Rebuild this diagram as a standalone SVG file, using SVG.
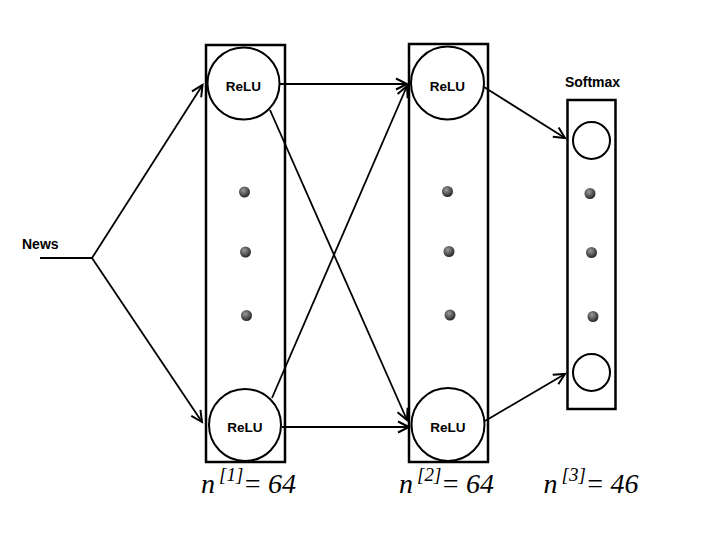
<svg xmlns="http://www.w3.org/2000/svg" width="720" height="540" viewBox="0 0 720 540">
<style>
.box{fill:none;stroke:#000;stroke-width:2.5}
.neuron{fill:#fff;stroke:#000;stroke-width:2}
.dot{fill:url(#dotg)}
.lbl{font-family:"Liberation Sans",Arial,sans-serif;font-weight:bold;fill:#000}
.relu{font-size:13.5px;text-anchor:middle}
.big{font-family:"Liberation Serif","Times New Roman",serif;font-style:italic;fill:#000}
.edge{fill:none;stroke:#000;stroke-width:1.8;marker-end:url(#arr)}
</style>
<defs>
<radialGradient id="dotg" cx="0.4" cy="0.35" r="0.7">
<stop offset="0" stop-color="#9a9a9a"/>
<stop offset="1" stop-color="#1e1e1e"/>
</radialGradient>
<marker id="arr" markerUnits="userSpaceOnUse" markerWidth="16" markerHeight="16" viewBox="-12 -8 14 16" refX="0" refY="0" orient="auto">
<path d="M-11,-5.5 L0,0 L-11,5.5" fill="none" stroke="#000" stroke-width="2"/>
</marker>
</defs>
<rect width="720" height="540" fill="#fff"/>

<g id="connectors">
<path d="M40,258 H92" fill="none" stroke="#000" stroke-width="1.8"/>
<path class="edge" d="M92,258 L202.5,85"/>
<path class="edge" d="M92,258 L202,422"/>
<path class="edge" d="M280,84 L407,84"/>
<path class="edge" d="M270,110 L407,420"/>
<path class="edge" d="M272,398 L407,86"/>
<path class="edge" d="M282,427 L409,427"/>
<path class="edge" d="M484,87 L565,138"/>
<path class="edge" d="M485,421 L565,374"/>
</g>

<g id="input">
<text class="lbl" x="22" y="249" font-size="14">News</text>
</g>

<g id="layer1">
<rect class="box" x="206" y="45" width="79" height="417"/>
<circle class="neuron" cx="243.5" cy="83.5" r="36"/>
<text class="lbl relu" x="243.5" y="91">ReLU</text>
<circle class="dot" cx="244.5" cy="192" r="5.5"/>
<circle class="dot" cx="245.5" cy="252" r="5.5"/>
<circle class="dot" cx="246.5" cy="315.5" r="5.5"/>
<circle class="neuron" cx="245" cy="425" r="36"/>
<text class="lbl relu" x="245" y="432">ReLU</text>
<text class="big" y="493" font-size="28"><tspan x="201">n</tspan><tspan x="219" y="481" font-size="19">[1]</tspan><tspan x="243" y="493">=</tspan><tspan x="268">64</tspan></text>
</g>

<g id="layer2">
<rect class="box" x="409" y="44" width="79" height="418"/>
<circle class="neuron" cx="447.5" cy="83" r="36.5"/>
<text class="lbl relu" x="447.5" y="90.5">ReLU</text>
<circle class="dot" cx="447.5" cy="191.5" r="5.5"/>
<circle class="dot" cx="449" cy="251.5" r="5.5"/>
<circle class="dot" cx="450" cy="315" r="5.5"/>
<circle class="neuron" cx="448" cy="424.5" r="36.5"/>
<text class="lbl relu" x="448" y="431.5">ReLU</text>
<text class="big" y="493" font-size="28"><tspan x="399">n</tspan><tspan x="417" y="481" font-size="19">[2]</tspan><tspan x="441" y="493">=</tspan><tspan x="466">64</tspan></text>
</g>

<g id="output">
<text class="lbl" x="592.5" y="87" font-size="14" text-anchor="middle">Softmax</text>
<rect class="box" x="567.5" y="100" width="48" height="309"/>
<circle class="neuron" cx="591.5" cy="140.5" r="18.5"/>
<circle class="dot" cx="590" cy="193.5" r="5.5"/>
<circle class="dot" cx="591.5" cy="252.5" r="5.5"/>
<circle class="dot" cx="593" cy="316.5" r="5.5"/>
<circle class="neuron" cx="591.5" cy="372.5" r="18.5"/>
<text class="big" y="493" font-size="28"><tspan x="543.5">n</tspan><tspan x="561.5" y="481" font-size="19">[3]</tspan><tspan x="585.5" y="493">=</tspan><tspan x="610.5">46</tspan></text>
</g>
</svg>
